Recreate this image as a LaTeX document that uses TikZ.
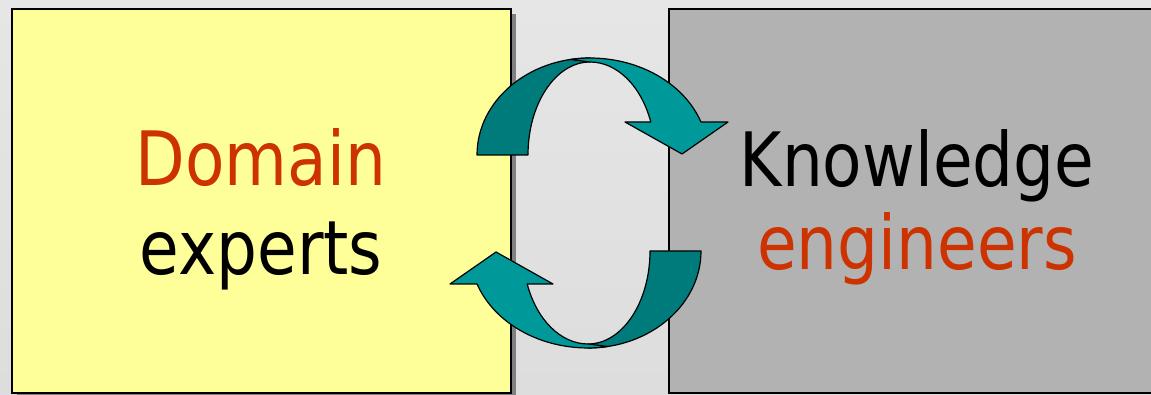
\documentclass[tikz,border=0pt]{standalone}
\usepackage{fontspec}
\setmainfont{DejaVu Sans}[FakeStretch=0.86]
\definecolor{bgtop}{HTML}{E6E6E6}
\definecolor{bgbot}{HTML}{DDDDDD}
\definecolor{pale}{HTML}{FFFF99}
\definecolor{greybox}{HTML}{B2B2B2}
\definecolor{shadowc}{HTML}{808080}
\definecolor{tealdark}{HTML}{007B7B}
\definecolor{teallight}{HTML}{009999}
\definecolor{redtext}{HTML}{CC3300}
\tikzset{
  panel/.style={draw=black, line width=1.6pt, anchor=south west, inner sep=0pt},
  lbl/.style={anchor=base, inner sep=0pt, font=\fontsize{75}{90}\selectfont},
  ribbon/.style={draw=black, line width=1.2pt, line join=round},
}
\begin{document}
\begin{tikzpicture}[x=1pt,y=1pt]
\useasboundingbox (0,0) rectangle (1151,395);
\shade[top color=bgtop, bottom color=bgbot] (0,0) rectangle (1151,395);
% shadow of the left panel
\fill[shadowc] (17,-6) rectangle (516,381);
\node[panel, fill=pale, minimum width=499pt, minimum height=384pt] (left) at (11,1.2) {};
\node[panel, fill=greybox, minimum width=499pt, minimum height=384pt] (right) at (668,1.2) {};
% circular arrows
\foreach \r in {0,180}{
\begin{scope}[rotate around={\r:(589,192)}]
  \draw[ribbon, fill=tealdark] (477,240) arc[start angle=180, end angle=90, x radius=113, y radius=97]
     -- (590,333) arc[start angle=90, end angle=180, x radius=62, y radius=93] -- cycle;
  \draw[ribbon, fill=teallight] (570.4,335.5) arc[start angle=100, end angle=90, x radius=113, y radius=97]
     arc[start angle=90, end angle=19.9, x radius=118, y radius=97]
     -- (728,273) -- (682,241) -- (625,273) -- (650.8,273)
     arc[start angle=20.8, end angle=90, x radius=65, y radius=93]
     .. controls (582,334) .. cycle;
\end{scope}
}
\node[lbl, text=redtext] (dom) at (261,209) {Domain};
\node[lbl, text=black] (exp) at (261,120) {experts};
\node[lbl, text=black] (kno) at (917,208) {Knowledge};
\node[lbl, text=redtext] (eng) at (917,125) {engineers};
\end{tikzpicture}
\end{document}
